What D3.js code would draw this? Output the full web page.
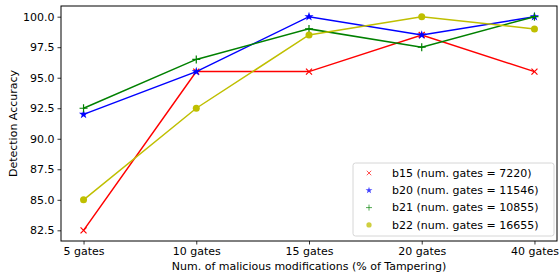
<!DOCTYPE html>
<html>
<head>
<meta charset="utf-8">
<script src="https://cdn.jsdelivr.net/npm/d3@7"></script>
<style>
  body { margin: 0; background: #fff; }
  svg text { font-family: 'DejaVu Sans', sans-serif; fill: #000; }
</style>
</head>
<body>
<div id="chart"></div>
<script>
const categories = ['5 gates', '10 gates', '15 gates', '20 gates', '40 gates']
const yTicks = [82.5, 85.0, 87.5, 90.0, 92.5, 95.0, 97.5, 100.0]

const seriesNames = [
  'b15 (num. gates = 7220)',
  'b20 (num. gates = 11546)',
  'b21 (num. gates = 10855)',
  'b22 (num. gates = 16655)'
]
const b15 = [82.5, 95.5, 95.5, 98.5, 95.5]
const b20 = [92.0, 95.5, 100.0, 98.5, 100.0]
const b21 = [92.5, 96.5, 99.0, 97.5, 100.0]
const b22 = [85.0, 92.5, 98.5, 100.0, 99.0]

const colors = ['#ff0000', '#0000ff', '#008000', '#bfbf00']
const markers = ['x', 'star', 'plus', 'circle']

const W = 559
const H = 275
const margin = { top: 6, right: 2, bottom: 34, left: 61 }

const svg = d3.select('#chart')
  .append('svg')
  .attr('width', W)
  .attr('height', H)

const plotW = W - margin.left - margin.right
const plotH = H - margin.top - margin.bottom

const g = svg.append('g')
  .attr('transform', `translate(${margin.left},${margin.top})`)

// matplotlib style auto margins (5%)
const x = d3.scaleLinear()
  .domain([-0.2, categories.length - 1 + 0.2])
  .range([0, plotW])
const y = d3.scaleLinear()
  .domain([81.625, 100.875])
  .range([plotH, 0])

// axes
const xAxis = d3.axisBottom(x)
  .tickValues(d3.range(categories.length))
  .tickFormat((i) => categories[i])
  .tickSize(3.5)
  .tickPadding(3)
const yAxis = d3.axisLeft(y)
  .tickValues(yTicks)
  .tickFormat(d3.format('.1f'))
  .tickSize(3.5)
  .tickPadding(3)

const gx = g.append('g')
  .attr('transform', `translate(0,${plotH})`)
  .call(xAxis)
const gy = g.append('g').call(yAxis)

;[gx, gy].forEach((a) => {
  a.select('.domain').remove()
  a.selectAll('text').style('font-size', '11px').style('font-family', 'DejaVu Sans, sans-serif')
  a.selectAll('line').attr('stroke', '#000').attr('stroke-width', 0.8)
})

// frame
g.append('rect')
  .attr('x', 0)
  .attr('y', 0)
  .attr('width', plotW)
  .attr('height', plotH)
  .attr('fill', 'none')
  .attr('stroke', '#000')
  .attr('stroke-width', 1)

// axis labels
svg.append('text')
  .attr('x', margin.left + plotW / 2)
  .attr('y', H - 5)
  .attr('text-anchor', 'middle')
  .style('font-size', '11px')
  .text('Num. of malicious modifications (% of Tampering)')

svg.append('text')
  .attr('transform', `translate(17,${margin.top + plotH / 2}) rotate(-90)`)
  .attr('text-anchor', 'middle')
  .style('font-size', '11px')
  .text('Detection Accuracy')

// marker drawing helper
function drawMarker(sel, type, color, k = 1) {
  if (type === 'x') {
    sel.append('path')
      .attr('d', `M${-3 * k},${-3 * k}L${3 * k},${3 * k}M${-3 * k},${3 * k}L${3 * k},${-3 * k}`)
      .attr('stroke', color)
      .attr('stroke-width', 1.2 * k)
      .attr('fill', 'none')
  } else if (type === 'plus') {
    sel.append('path')
      .attr('d', `M${-4 * k},0L${4 * k},0M0,${-4 * k}L0,${4 * k}`)
      .attr('stroke', color)
      .attr('stroke-width', 1.2 * k)
      .attr('fill', 'none')
  } else if (type === 'star') {
    sel.append('path')
      .attr('d', d3.symbol(d3.symbolStar, 26 * k * k)())
      .attr('fill', color)
  } else {
    sel.append('circle')
      .attr('r', 3.5 * k)
      .attr('fill', color)
  }
}

const allSeries = [b15, b20, b21, b22]

const line = d3.line()
  .x((d, i) => x(i))
  .y((d) => y(d))

allSeries.forEach((vals, s) => {
  g.append('path')
    .datum(vals)
    .attr('d', line)
    .attr('fill', 'none')
    .attr('stroke', colors[s])
    .attr('stroke-width', 1.5)

  g.selectAll(`.pt${s}`)
    .data(vals)
    .join('g')
    .attr('class', `pt${s}`)
    .attr('transform', (d, i) => `translate(${x(i)},${y(d)})`)
    .each(function() {
      drawMarker(d3.select(this), markers[s], colors[s])
    })
})

// legend
const legX = 353
const legY = 163
const legend = svg.append('g')

legend.append('rect')
  .attr('x', legX)
  .attr('y', legY)
  .attr('width', 201)
  .attr('height', 73)
  .attr('rx', 2.5)
  .attr('fill', '#fff')
  .attr('fill-opacity', 0.8)
  .attr('stroke', '#ccc')
  .attr('stroke-width', 0.8)

seriesNames.forEach((name, s) => {
  const ry = legY + 10 + s * 17.3
  const mk = legend.append('g')
    .attr('transform', `translate(${legX + 16},${ry})`)
    .attr('opacity', 0.75)
  drawMarker(mk, markers[s], colors[s], 0.75)
  legend.append('text')
    .attr('x', legX + 39)
    .attr('y', ry)
    .attr('dy', '0.35em')
    .style('font-size', '11px')
    .text(name)
})
</script>
</body>
</html>
